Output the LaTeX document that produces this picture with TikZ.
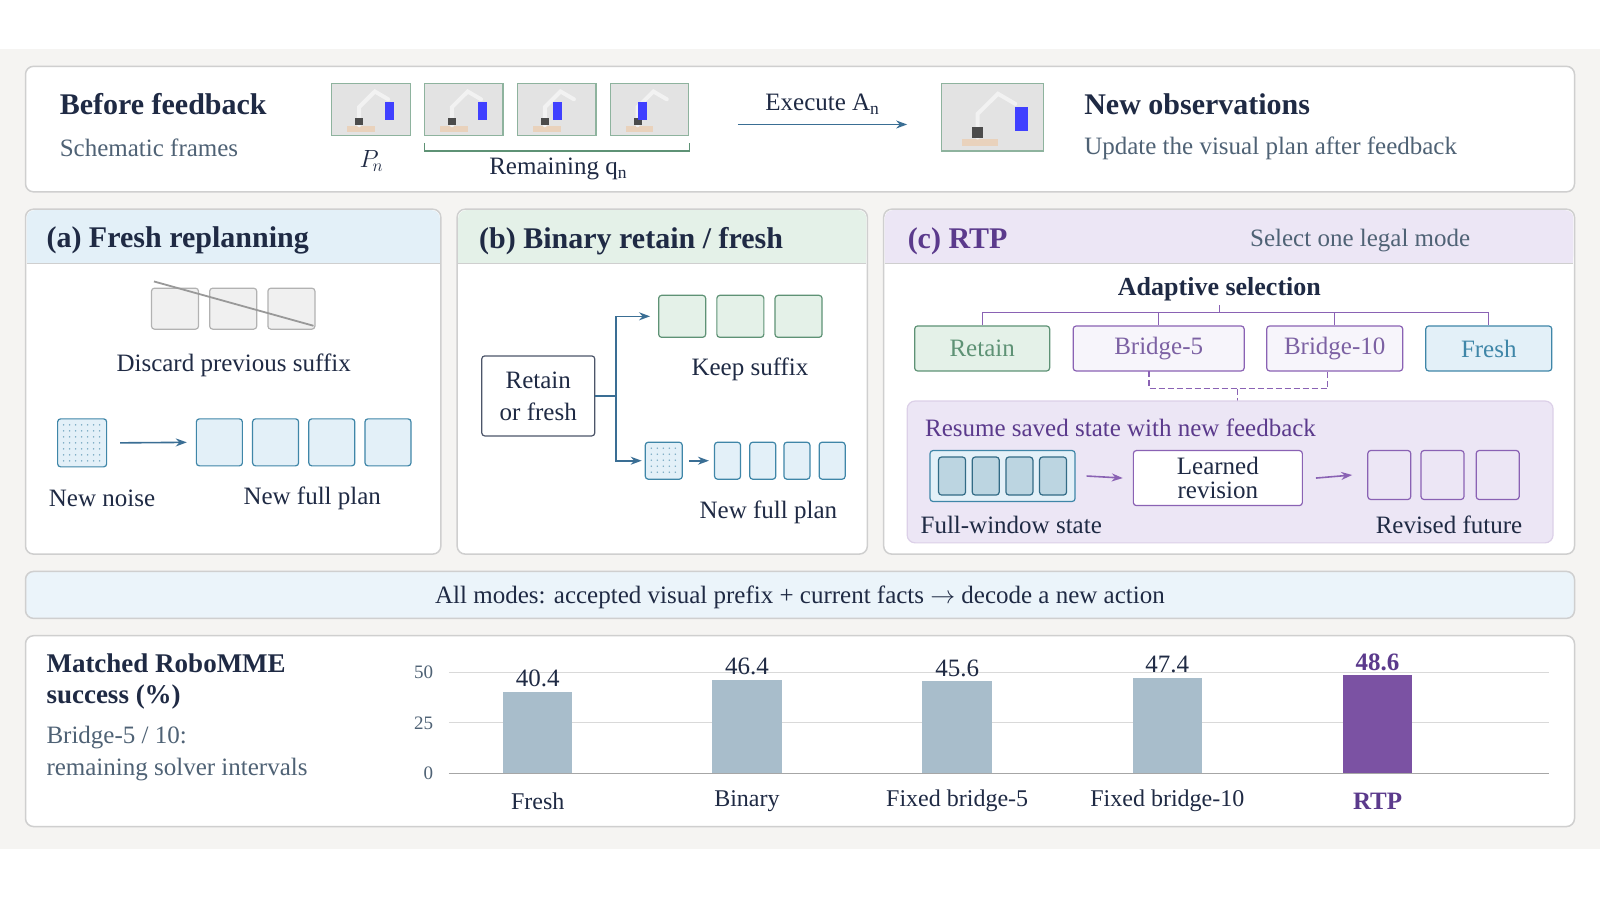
\documentclass[tikz,border=0pt]{standalone}
\usepackage{fontspec}
\setmainfont{Liberation Serif}
\usetikzlibrary{positioning,arrows.meta}
\definecolor{ink}{HTML}{1F2A44}
\definecolor{subgray}{HTML}{4F6275}
\definecolor{rtp}{HTML}{5B3A8C}
\definecolor{rtpbar}{HTML}{7B52A3}
\definecolor{barcol}{HTML}{A8BDCB}
\definecolor{paneledge}{HTML}{CFCFCF}
\definecolor{bandbg}{HTML}{F5F4F2}
\definecolor{lblue}{HTML}{E3F0F8}
\definecolor{bedge}{HTML}{3F86A8}
\definecolor{lgreen}{HTML}{E4F1E8}
\definecolor{gedge}{HTML}{5E9275}
\definecolor{lpurp}{HTML}{ECE6F5}
\definecolor{pedge}{HTML}{8A62B4}
\definecolor{arrowc}{HTML}{3A6E94}
\tikzset{every picture/.style={line width=1.2pt}}
\tikzset{
  panel/.style={draw=paneledge,fill=white,rounded corners=8pt,line width=1.5pt},
  txt/.style={text=ink,font=\fontsize{25}{28}\selectfont,inner sep=0pt},
  ttl/.style={text=ink,font=\fontsize{30}{33}\selectfont\bfseries,inner sep=0pt},
  sub/.style={text=subgray,font=\fontsize{25}{28}\selectfont,inner sep=0pt},
  bframe/.style={draw=bedge,fill=lblue,rounded corners=3pt},
  gframe/.style={draw=gedge,fill=lgreen,rounded corners=3pt},
  pframe/.style={draw=pedge,fill=lpurp,rounded corners=3pt},
  xframe/.style={draw=gray!60,fill=gray!12,rounded corners=3pt},
  flow/.style={-{Stealth[length=11pt,width=8pt]},draw=arrowc,line width=1.6pt},
  pflow/.style={-{Stealth[length=11pt,width=8pt]},draw=pedge,line width=1.6pt},
}
\newcommand{\robotpic}[5]{% x1 y1 x2 y2 cube-shift
  \fill[gray!22,draw=gedge!70] (#1,#2) rectangle (#3,#4);
  \fill[brown!35] ({#1+0.2*(#3-#1)},{#4-0.18*(#4-#2)}) rectangle ({#1+0.55*(#3-#1)},{#4-0.08*(#4-#2)});
  \draw[gray!10,line width=4pt,line cap=round] ({#1+0.35*(#3-#1)},{#4-0.2*(#4-#2)}) -- ({#1+0.35*(#3-#1)},{#2+0.45*(#4-#2)}) -- ({#1+0.55*(#3-#1)},{#2+0.15*(#4-#2)}) -- ({#1+0.72*(#3-#1)},{#2+0.3*(#4-#2)});
  \fill[black!70] ({#1+0.3*(#3-#1)},{#4-0.35*(#4-#2)}) rectangle ({#1+0.4*(#3-#1)},{#4-0.2*(#4-#2)});
  \fill[blue!75] ({#1+#5*(#3-#1)},{#2+0.35*(#4-#2)}) rectangle ({#1+(#5+0.12)*(#3-#1)},{#2+0.7*(#4-#2)});
}
\begin{document}
\begin{tikzpicture}[x=1.0204pt,y=-1.0204pt]
\useasboundingbox (0,0) rectangle (1568,882);
\fill[white] (0,0) rectangle (1568,882);
\fill[bandbg] (0,48) rectangle (1568,832);

% top strip
\draw[panel] (25,65) rectangle (1543,188);
\node[ttl,anchor=west] (before) at (58,102) {Before feedback};
\node[sub,anchor=west] (schem) at (58,145) {Schematic frames};
\robotpic{325}{82}{402}{133}{0.68}
\robotpic{416}{82}{493}{133}{0.68}
\robotpic{507}{82}{584}{133}{0.45}
\robotpic{598}{82}{675}{133}{0.35}
\node[txt] (pn) at (364,158) {$P_{\!n}$};
\draw[gedge] (416,140) -- (416,148) -- (676,148) -- (676,140);
\node[txt] (remq) at (547,166) {Remaining q\textsubscript{n}};
\coordinate (ex1) at (723,122);
\coordinate (ex2) at (889,122);
\draw[flow] (ex1) -- (ex2);
\node[txt] (exec) at (806,102) {Execute A\textsubscript{n}};
\robotpic{923}{82}{1023}{148}{0.72}
\node[ttl,anchor=west] (newobs) at (1062,102) {New observations};
\node[sub,anchor=west] (upd) at (1062,145) {Update the visual plan after feedback};

% panel a
\draw[panel] (25,205) rectangle (432,543);
\fill[lblue,rounded corners=8pt] (26,206) rectangle (431,258);
\fill[lblue] (26,240) rectangle (431,258);
\draw[paneledge] (26,258) -- (431,258);
\node[ttl,anchor=west] (ta) at (45,236) {(a) Fresh replanning};
\node[xframe,minimum width=47pt,minimum height=41pt] (d1) at (171.5,302.5) {};
\node[xframe,minimum width=47pt,minimum height=41pt,right=10pt of d1] (d2) {};
\node[xframe,minimum width=47pt,minimum height=41pt,right=10pt of d2] (d3) {};
\draw[gray!80,line width=1.8pt] (d1.north west) ++(3,-6) -- ([xshift=-2pt,yshift=4pt]d3.south east);
\node[txt] (disc) at (229,358) {Discard previous suffix};
\node[bframe,minimum width=49pt,minimum height=48pt,
      path picture={\foreach \i in {1,...,7}\foreach \j in {1,...,7}
        \fill[bedge!70] ([xshift=\i*6pt,yshift=-\j*6pt]path picture bounding box.north west) circle (0.8pt);}] (noisea) at (80.5,434) {};
\node[bframe,minimum width=46pt,minimum height=47pt] (fa1) at (215,433.5) {};
\node[bframe,minimum width=46pt,minimum height=47pt,right=9pt of fa1] (fa2) {};
\node[bframe,minimum width=46pt,minimum height=47pt,right=9pt of fa2] (fa3) {};
\node[bframe,minimum width=46pt,minimum height=47pt,right=9pt of fa3] (fa4) {};
\draw[flow] ([xshift=13pt]noisea.east) -- ([xshift=-9pt]fa1.west);
\node[txt] (nna) at (100,488) {New noise};
\node[txt] (nfa) at (306,488) {New full plan};

% panel b
\draw[panel] (448,205) rectangle (850,543);
\fill[lgreen,rounded corners=8pt] (449,206) rectangle (849,258);
\fill[lgreen] (449,240) rectangle (849,258);
\draw[paneledge] (449,258) -- (849,258);
\node[ttl,anchor=west] (tb) at (469,236) {(b) Binary retain / fresh};
\node[draw=ink!80,fill=white,rounded corners=3pt,minimum width=113pt,minimum height=80pt,
      txt,align=center] (rof) at (527.5,388) {Retain\\[4pt]or fresh};
\node[gframe,minimum width=47pt,minimum height=42pt] (k1) at (668.5,310) {};
\node[gframe,minimum width=47pt,minimum height=42pt,right=10pt of k1] (k2) {};
\node[gframe,minimum width=47pt,minimum height=42pt,right=10pt of k2] (k3) {};
\node[txt] (keep) at (735,362) {Keep suffix};
\node[bframe,minimum width=37pt,minimum height=37pt,
      path picture={\foreach \i in {1,...,5}\foreach \j in {1,...,5}
        \fill[bedge!70] ([xshift=\i*6pt,yshift=-\j*6pt]path picture bounding box.north west) circle (0.8pt);}] (noiseb) at (650.5,451.5) {};
\node[bframe,minimum width=26pt,minimum height=37pt] (fb1) at (713,451.5) {};
\node[bframe,minimum width=26pt,minimum height=37pt,right=8pt of fb1] (fb2) {};
\node[bframe,minimum width=26pt,minimum height=37pt,right=7pt of fb2] (fb3) {};
\node[bframe,minimum width=26pt,minimum height=37pt,right=8pt of fb3] (fb4) {};
\draw[flow] (noiseb.east) ++(6,0) -- ([xshift=-5pt]fb1.west);
\draw[flow] (rof.east) -- ++(20,0) |- ([xshift=-8pt]k1.west);
\draw[flow] (rof.east) -- ++(20,0) |- ([xshift=-3pt]noiseb.west);
\node[txt] (nfb) at (753,502) {New full plan};

% panel c
\draw[panel] (866,205) rectangle (1543,543);
\fill[lpurp,rounded corners=8pt] (867,206) rectangle (1542,258);
\fill[lpurp] (867,240) rectangle (1542,258);
\draw[paneledge] (867,258) -- (1542,258);
\node[ttl,anchor=west,text=rtp] (tc) at (889,236) {(c) RTP};
\node[sub] (sel) at (1333,236) {Select one legal mode};
\node[ttl,font=\fontsize{26}{30}\selectfont\bfseries] (adapt) at (1195,283) {Adaptive selection};
\node[gframe,fill=lgreen,minimum width=135pt,minimum height=45pt,txt,text=gedge] (mret) at (962.5,341.5) {Retain};
\node[pframe,fill=white!60!lpurp,minimum width=171pt,minimum height=45pt,txt,text=rtp!80] (mb5) at (1135.5,341.5) {Bridge-5};
\node[pframe,fill=white!60!lpurp,minimum width=136pt,minimum height=45pt,txt,text=rtp!80] (mb10) at (1308,341.5) {Bridge-10};
\node[bframe,minimum width=126pt,minimum height=45pt,txt,text=bedge] (mfr) at (1459,341.5) {Fresh};
\coordinate (tjoin) at (1195,306);
\draw[pedge] (adapt.south) ++(0,4) -- (tjoin);
\draw[pedge] (mret.north) -- (mret.north |- tjoin) -- (mfr.north |- tjoin) -- (mfr.north);
\draw[pedge] (mb5.north) -- (mb5.north |- tjoin);
\draw[pedge] (mb10.north) -- (mb10.north |- tjoin);
\draw[pedge,dash pattern=on 6pt off 3pt] (1126,364) -- (1126,381) -- (1301,381) -- (1301,364);
\draw[pedge,dash pattern=on 6pt off 3pt] (1213,381) -- (1213,393);
\draw[draw=pedge!30,fill=lpurp,rounded corners=8pt] (889,393) rectangle (1522,532);
\node[txt,anchor=west,text=rtp] (resume) at (906,419) {Resume saved state with new feedback};
\node[bframe,minimum width=145pt,minimum height=51pt] (fw) at (982.5,466.5) {};
\foreach \k in {0,1,2,3}
  \node[draw=bedge!80!black,fill=bedge!35,rounded corners=3pt,minimum width=27pt,minimum height=38pt] (fw\k) at (933+\k*33,466.5) {};
\node[draw=pedge,fill=white,rounded corners=3pt,minimum width=169pt,minimum height=55pt,txt,align=center,font=\fontsize{25}{24}\selectfont] (learn) at (1193.5,468.5) {Learned\\revision};
\node[pframe,minimum width=43pt,minimum height=49pt] (rf1) at (1361.5,465.5) {};
\node[pframe,minimum width=43pt,minimum height=49pt,right=9pt of rf1] (rf2) {};
\node[pframe,minimum width=43pt,minimum height=49pt,right=11pt of rf2] (rf3) {};
\draw[pflow] ([xshift=11pt]fw.east) -- ([xshift=-10pt]learn.west);
\draw[pflow] ([xshift=13pt]learn.east) -- ([xshift=-15pt]rf1.west);
\node[txt] (fwl) at (991,514) {Full-window state};
\node[txt] (rfl) at (1420,514) {Revised future};

% band
\draw[draw=paneledge,fill=lblue!70,rounded corners=8pt,line width=1.5pt] (25,560) rectangle (1543,606);
\node[txt] (allm) at (784,585) {All modes: accepted visual prefix + current facts $\rightarrow$ decode a new action};

% results
\draw[panel] (25,623) rectangle (1543,810);
\node[ttl,font=\fontsize{27}{30}\selectfont\bfseries,anchor=west] (mr1) at (45,650) {Matched RoboMME};
\node[ttl,font=\fontsize{27}{30}\selectfont\bfseries,anchor=west] (mr2) at (45,683) {success (\%)};
\node[sub,anchor=west] (bl1) at (45,723) {Bridge-5 / 10:};
\node[sub,anchor=west] (bl2) at (45,754) {remaining solver intervals};
\foreach \v in {0,25,50}{
  \draw[gray!30,line width=1pt] (440,{758-1.98*\v}) -- (1518,{758-1.98*\v});
  \node[sub,font=\fontsize{19}{22}\selectfont,anchor=east] (ax\v) at (425,{758-1.98*\v}) {\v};
}
\draw[gray!70,line width=1pt] (440,758) -- (1518,758);
\foreach \x/\v/\l [count=\i] in {527/40.4/Fresh,732/46.4/Binary,938/45.6/Fixed bridge-5,1144/47.4/Fixed bridge-10}{
  \fill[barcol] (\x-34,758) rectangle (\x+34,{758-1.98*\v});
  \node[txt,anchor=south] (val\i) at (\x,{754-1.98*\v}) {\v};
  \node[txt,font=\fontsize{24}{26}\selectfont] (lab\i) at (\x,785) {\l};
}
\fill[rtpbar] (1316,758) rectangle (1384,{758-1.98*48.6});
\node[txt,anchor=south,text=rtp,font=\fontsize{25}{28}\selectfont\bfseries] (val5) at (1350,{754-1.98*48.6}) {48.6};
\node[txt,text=rtp,font=\fontsize{25}{28}\selectfont\bfseries] (lab5) at (1350,785) {RTP};
\end{tikzpicture}
\end{document}
